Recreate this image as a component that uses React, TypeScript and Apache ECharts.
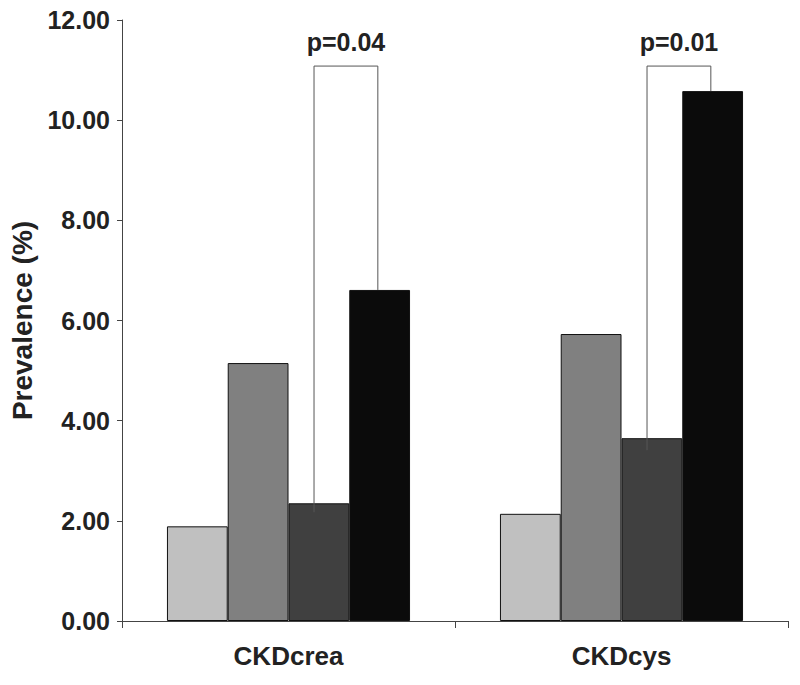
import React, { useEffect, useRef } from "react";
import * as echarts from "echarts";

const categories = ["CKDcrea", "CKDcys"];
const groupNames = ["Group 1", "Group 2", "Group 3", "Group 4"];
const group1 = [1.89, 2.14];
const group2 = [5.15, 5.73];
const group3 = [2.35, 3.65];
const group4 = [6.61, 10.58];
const barColors = ["#c0c0c0", "#808080", "#404040", "#0b0b0b"];
const bracketTop = [11.08, 11.08];
const bracketLeftBottom = [2.17, 3.41];
const pLabels = ["p=0.04", "p=0.01"];

const FONT = "'Liberation Sans', Arial, Helvetica, sans-serif";
const GAP = 0.27;

export default function App() {
  const ref = useRef<HTMLDivElement>(null);
  useEffect(() => {
    document.body.style.margin = "0";
    if (!ref.current) return;
    const chart = echarts.init(ref.current, null, { renderer: "svg" });
    const seriesData = [group1, group2, group3, group4];
    const bars = seriesData.map((d, i) => ({
      name: groupNames[i],
      type: "bar",
      data: d,
      barGap: "0%",
      barCategoryGap: GAP * 100 + "%",
      itemStyle: { color: barColors[i], borderColor: "#111", borderWidth: 1 },
      z: 2,
    }));
    const bracketData = categories.map((_, i) => [
      i,
      bracketTop[i],
      bracketLeftBottom[i],
      group4[i],
    ]);
    chart.setOption({
      animation: false,
      grid: { left: 122, right: 12, top: 20, bottom: 64 },
      xAxis: {
        type: "category",
        data: categories,
        axisLine: { lineStyle: { color: "#444", width: 1 } },
        axisTick: { show: true, length: 7, lineStyle: { color: "#444" } },
        axisLabel: {
          margin: 22,
          fontFamily: FONT,
          fontWeight: "bold",
          fontSize: 26,
          color: "#222",
        },
      },
      yAxis: {
        type: "value",
        min: 0,
        max: 12,
        interval: 2,
        name: "Prevalence (%)",
        nameLocation: "middle",
        nameGap: 86,
        nameTextStyle: {
          fontFamily: FONT,
          fontWeight: "bold",
          fontSize: 28,
          color: "#222",
        },
        axisLine: { show: true, lineStyle: { color: "#444", width: 1 } },
        axisTick: { show: true, length: 5, lineStyle: { color: "#444" } },
        splitLine: { show: false },
        axisLabel: {
          margin: 12,
          fontFamily: FONT,
          fontWeight: "bold",
          fontSize: 25,
          color: "#222",
          formatter: (v: number) => v.toFixed(2),
        },
      },
      series: [
        ...bars,
        {
          type: "custom",
          name: "brackets",
          data: bracketData,
          encode: { x: 0, y: 1 },
          z: 5,
          renderItem: (params: any, api: any) => {
            const cat = api.value(0);
            const top = api.coord([cat, api.value(1)]);
            const band = api.size([1, 0])[0];
            const bw = (band * (1 - GAP)) / 4;
            const xL = top[0] + 0.42 * bw;
            const xR = top[0] + 1.47 * bw;
            const yL = api.coord([cat, api.value(2)])[1];
            const yR = api.coord([cat, api.value(3)])[1];
            return {
              type: "group",
              children: [
                {
                  type: "polyline",
                  shape: {
                    points: [
                      [xL, yL],
                      [xL, top[1]],
                      [xR, top[1]],
                      [xR, yR],
                    ],
                  },
                  style: { stroke: "#555", lineWidth: 1, fill: null },
                },
                {
                  type: "text",
                  x: (xL + xR) / 2,
                  y: top[1] - 12,
                  style: {
                    text: pLabels[params.dataIndex],
                    fontFamily: FONT,
                    fontWeight: "bold",
                    fontSize: 25,
                    fill: "#222",
                    align: "center",
                    verticalAlign: "bottom",
                  },
                },
              ],
            };
          },
        },
      ],
    });
    return () => chart.dispose();
  }, []);
  return <div ref={ref} style={{ width: 800, height: 685 }} />;
}
